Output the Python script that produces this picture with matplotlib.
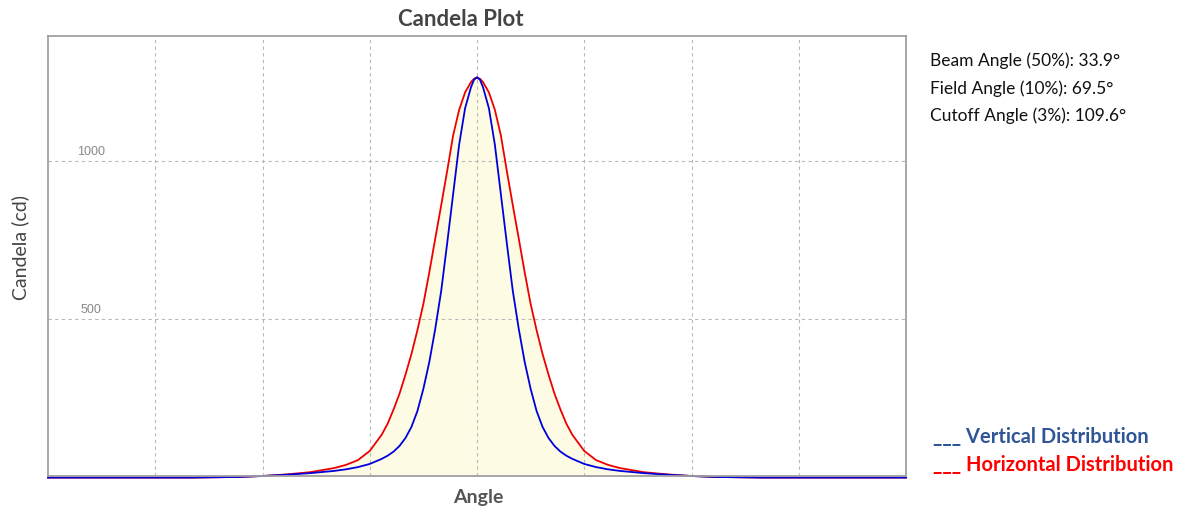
import matplotlib
matplotlib.use("Agg")
import matplotlib.pyplot as plt

# ---- data ----
angles = [-180, -150, -120, -110, -100, -90, -80, -70, -60, -55, -50, -45, -40,
          -37.5, -35, -32.5, -30, -27.5, -25, -22.5, -20, -17.5, -15, -12.5,
          -10, -7.5, -5, -2.5, -1.25, 0, 1.25,
          2.5, 5, 7.5, 10, 12.5, 15, 17.5, 20, 22.5, 25, 27.5, 30, 32.5, 35,
          37.5, 40, 45, 50, 55, 60, 70, 80, 90, 100, 110, 120, 150, 180]
horizontal = [0, 0, 0, 1, 2, 5, 10, 17, 30, 40, 55, 84, 135,
              170, 215, 265, 325, 390, 465, 548, 648, 755, 860, 968,
              1080, 1160, 1215, 1248, 1258, 1262, 1258,
              1248, 1215, 1160, 1080, 968, 860, 755, 648, 548, 465, 390, 325, 265, 215,
              170, 135, 84, 55, 40, 30, 17, 10, 5, 2, 1, 0, 0, 0]
vertical = [0, 0, 0, 1, 2, 5, 9, 14, 21, 26, 33, 43, 59,
            69, 82, 100, 125, 160, 210, 280, 365, 470, 590, 740,
            895, 1050, 1165, 1232, 1255, 1263, 1255,
            1232, 1165, 1050, 895, 740, 590, 470, 365, 280, 210, 160, 125, 100, 82,
            69, 59, 43, 33, 26, 21, 14, 9, 5, 2, 1, 0, 0, 0]
x_grid = [-135, -90, -45, 0, 45, 90, 135]
y_grid = [500, 1000]
y_labels = ["500", "1000"]
stats = ["Beam Angle (50%): 33.9°", "Field Angle (10%): 69.5°", "Cutoff Angle (3%): 109.6°"]
series_names = ["Vertical Distribution", "Horizontal Distribution"]

plt.rcParams['font.family'] = ['Lato', 'DejaVu Sans']

W, H = 1178, 512
fig = plt.figure(figsize=(W/100, H/100), dpi=100)
ax = fig.add_axes([48/W, 1 - 476/H, (906-48)/W, (476-36)/H])

upper = [max(a, b) for a, b in zip(horizontal, vertical)]
ax.fill_between(angles, 0, upper, color='#fdfbe3', zorder=1, linewidth=0)
ax.plot(angles, horizontal, color='#ee0000', lw=1.3, zorder=3, clip_on=False)
ax.plot(angles, vertical, color='#0000dd', lw=1.3, zorder=4, clip_on=False)

ax.set_xlim(-180, 180)
ax.set_ylim(5, 1393)
ax.set_xticks(x_grid)
ax.set_yticks(y_grid)
ax.tick_params(length=0, labelbottom=False, labelleft=False)
ax.grid(True, color='#b8b8b8', linestyle=(0, (3, 3)), linewidth=0.8, zorder=2)
ax.set_axisbelow(False)
for s in ax.spines.values():
    s.set_color('#a0a0a0')
    s.set_linewidth(1.3)
    s.set_zorder(5)

for v, lab in zip(y_grid, y_labels):
    ax.annotate(lab, xy=(-162, v), xytext=(0, 2), textcoords='offset points',
                ha='center', va='bottom', fontsize=9, color='#888888',
                family=['Liberation Sans', 'DejaVu Sans'])

fig.text(461/W, 1 - 19/H, "Candela Plot", fontsize=16, fontweight='bold',
         color='#444444', ha='center', va='center')
fig.text(478/W, 1 - 497/H, "Angle", fontsize=14, fontweight='bold',
         color='#555555', ha='center', va='center')
fig.text(20/W, 1 - 247/H, "Candela (cd)", fontsize=14, color='#444444',
         ha='center', va='center', rotation=90)

for i, t in enumerate(stats):
    fig.text(930/W, 1 - (61 + i*27.5)/H, t, fontsize=12.5, color='#111111',
             ha='left', va='center')

leg_colors = ['#2f5597', '#ff0000']
for i, (name, c) in enumerate(zip(series_names, leg_colors)):
    fig.text(933/W, 1 - (437 + i*28)/H, "___ " + name, fontsize=14.5,
             fontweight='bold', color=c, ha='left', va='center')

fig.savefig("out.png", dpi=100)
